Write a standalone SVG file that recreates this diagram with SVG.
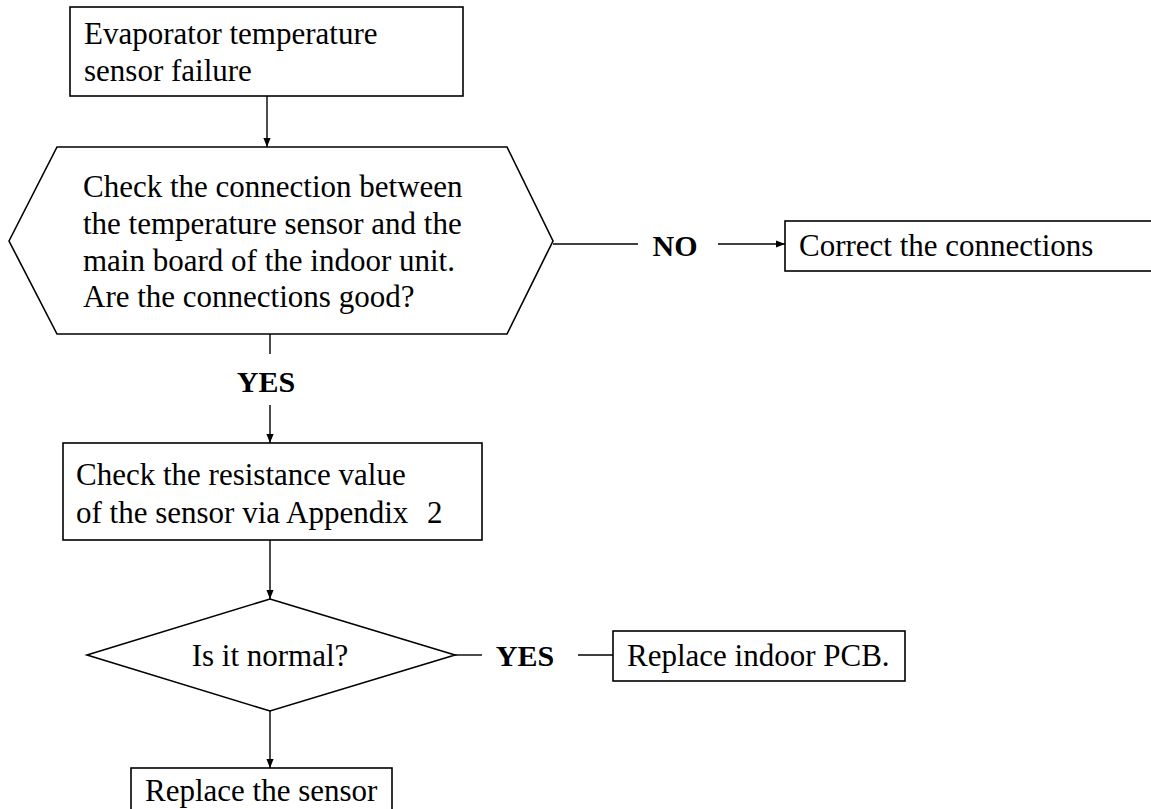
<svg xmlns="http://www.w3.org/2000/svg" width="1151" height="809" viewBox="0 0 1151 809">
<style>
.box{fill:#fff;stroke:#000;stroke-width:1.6}
.ln{stroke:#000;stroke-width:1.4;fill:none}
.t{font-family:"Liberation Serif","Times New Roman",serif;font-size:31px;fill:#000}
.b{font-family:"Liberation Serif","Times New Roman",serif;font-size:30px;font-weight:bold;fill:#000}
</style>
<defs>
<marker id="ah" viewBox="0 0 10 10" refX="10" refY="5" markerWidth="9" markerHeight="9" markerUnits="userSpaceOnUse" orient="auto">
<path d="M0,1 L10,5 L0,9 Z" fill="#000"/>
</marker>
</defs>
<rect width="1151" height="809" fill="#fff"/>
<g id="connectors">
<line class="ln" x1="267" y1="96" x2="267" y2="147" marker-end="url(#ah)"/>
<line class="ln" x1="553" y1="244" x2="638" y2="244"/>
<line class="ln" x1="718" y1="244" x2="785" y2="244" marker-end="url(#ah)"/>
<line class="ln" x1="270" y1="334" x2="270" y2="354"/>
<line class="ln" x1="270" y1="405" x2="270" y2="443" marker-end="url(#ah)"/>
<line class="ln" x1="270" y1="540" x2="270" y2="599" marker-end="url(#ah)"/>
<line class="ln" x1="455" y1="655" x2="482" y2="655"/>
<line class="ln" x1="578" y1="655" x2="613" y2="655"/>
<line class="ln" x1="270" y1="711" x2="270" y2="768" marker-end="url(#ah)"/>
<text class="b" x="675" y="256" text-anchor="middle">NO</text>
<text class="b" x="266" y="392" text-anchor="middle">YES</text>
<text class="b" x="525" y="666" text-anchor="middle">YES</text>
</g>
<g id="start">
<rect class="box" x="70" y="7" width="393" height="89"/>
<text class="t" x="84" y="44">Evaporator temperature</text>
<text class="t" x="84" y="81">sensor failure</text>
</g>
<g id="check-connection">
<polygon class="box" points="9,241 57,147 507,147 553,241 507,334 57,334"/>
<text class="t" x="83" y="197">Check the connection between</text>
<text class="t" x="83" y="234">the temperature sensor and the</text>
<text class="t" x="83" y="271">main board of the indoor unit.</text>
<text class="t" x="83" y="307">Are the connections good?</text>
</g>
<g id="correct-connections">
<rect class="box" x="785" y="221" width="370" height="50"/>
<text class="t" x="799" y="256">Correct the connections</text>
</g>
<g id="check-resistance">
<rect class="box" x="63" y="443" width="419" height="97"/>
<text class="t" x="76" y="485">Check the resistance value</text>
<text class="t" x="76" y="523">of the sensor via Appendix</text>
<text class="t" x="427" y="523">2</text>
</g>
<g id="is-normal">
<polygon class="box" points="270,599 455,655 270,711 87,655"/>
<text class="t" x="270" y="666" text-anchor="middle">Is it normal?</text>
</g>
<g id="replace-pcb">
<rect class="box" x="613" y="631" width="292" height="50"/>
<text class="t" x="627" y="666">Replace indoor PCB.</text>
</g>
<g id="replace-sensor">
<rect class="box" x="131" y="768" width="261" height="50"/>
<text class="t" x="145" y="801">Replace the sensor</text>
</g>
</svg>
